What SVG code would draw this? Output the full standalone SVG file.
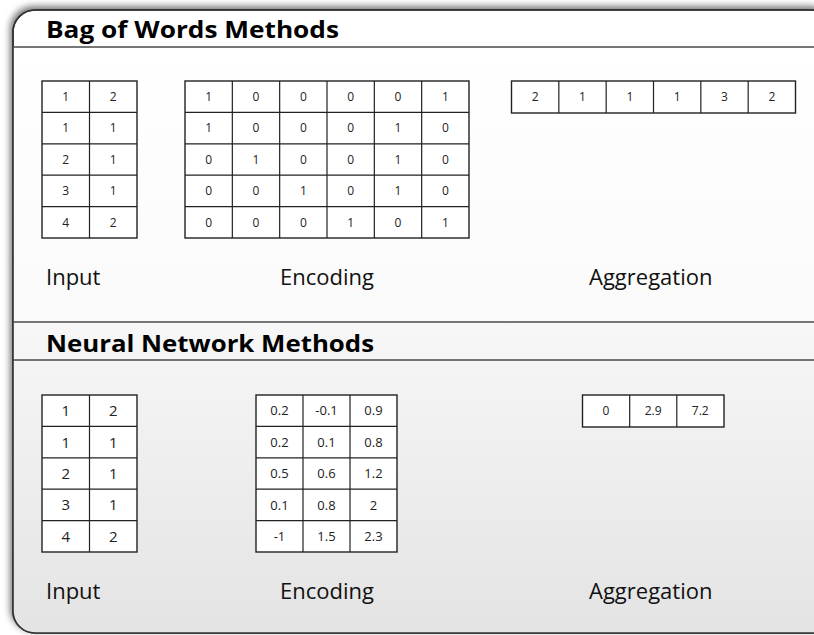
<svg xmlns="http://www.w3.org/2000/svg" width="814" height="635" viewBox="0 0 814 635">
<defs>
  <linearGradient id="gBottom" x1="0" y1="0" x2="0" y2="1">
    <stop offset="0" stop-color="#f7f7f7"/>
    <stop offset="1" stop-color="#e3e3e3"/>
  </linearGradient>
  <linearGradient id="gTop" x1="0" y1="0" x2="0" y2="1">
    <stop offset="0" stop-color="#ffffff"/>
    <stop offset="1" stop-color="#fafafa"/>
  </linearGradient>
  <filter id="shadow" x="-5%" y="-5%" width="110%" height="110%">
    <feDropShadow dx="-2" dy="-3" stdDeviation="3.5" flood-color="#000" flood-opacity="0.55"/>
  </filter>
  <clipPath id="frameClip">
    <path d="M13,32 A22,22 0 0 1 35,10 L812,10 A20,20 0 0 1 832,30 L832,613 A20,20 0 0 1 812,633 L35,633 A22,22 0 0 1 13,611 Z"/>
  </clipPath>
</defs>
<style>
  .frame { fill: #ffffff; stroke: #333333; stroke-width: 1.6; }
  .sep { stroke: #4a4a4a; stroke-width: 1.6; fill: none; }
  .title { font-family: "Open Sans", "DejaVu Sans", sans-serif; font-weight: bold; font-size: 24px; fill: #000; }
  .label { font-family: "Open Sans", "DejaVu Sans", sans-serif; font-size: 22px; fill: #111; }
  .tbl { fill: #ffffff; stroke: #222222; stroke-width: 1.4; }
  .grid { stroke: #222222; stroke-width: 1.2; fill: none; }
  .c { font-family: "Open Sans", "DejaVu Sans", sans-serif; font-size: 12px; fill: #222; text-anchor: middle; }
  .c15 { font-family: "Open Sans", "DejaVu Sans", sans-serif; font-size: 15px; fill: #222; text-anchor: middle; }
  .c13 { font-family: "Open Sans", "DejaVu Sans", sans-serif; font-size: 13px; fill: #222; text-anchor: middle; }
</style>

<g id="frame">
  <path class="frame" filter="url(#shadow)" d="M13,32 A22,22 0 0 1 35,10 L812,10 A20,20 0 0 1 832,30 L832,613 A20,20 0 0 1 812,633 L35,633 A22,22 0 0 1 13,611 Z"/>
  <g clip-path="url(#frameClip)">
    <rect x="0" y="47" width="840" height="275" fill="url(#gTop)"/>
    <rect x="0" y="322" width="840" height="320" fill="url(#gBottom)"/>
  </g>
  <path d="M13,32 A22,22 0 0 1 35,10 L812,10 A20,20 0 0 1 832,30 L832,613 A20,20 0 0 1 812,633 L35,633 A22,22 0 0 1 13,611 Z" fill="none" stroke="#333333" stroke-width="1.6"/>
  <line class="sep" x1="13" y1="47" x2="814" y2="47"/>
  <line class="sep" x1="13" y1="322" x2="814" y2="322"/>
  <line class="sep" x1="13" y1="360" x2="814" y2="360"/>
</g>

<g id="title-bow">
  <text class="title" x="46" y="38" textLength="293" lengthAdjust="spacingAndGlyphs">Bag of Words Methods</text>
</g>
<g id="title-nn">
  <text class="title" x="46" y="352" textLength="328" lengthAdjust="spacingAndGlyphs">Neural Network Methods</text>
</g>

<g id="bow-input">
  <rect class="tbl" x="42" y="81" width="95" height="157"/>
  <path class="grid" d="M89.5,81 V238 M42,112.4 H137 M42,143.8 H137 M42,175.2 H137 M42,206.6 H137"/>
  <text class="c" x="65.75" y="101">1</text><text class="c" x="113.25" y="101">2</text>
  <text class="c" x="65.75" y="132.4">1</text><text class="c" x="113.25" y="132.4">1</text>
  <text class="c" x="65.75" y="163.8">2</text><text class="c" x="113.25" y="163.8">1</text>
  <text class="c" x="65.75" y="195.2">3</text><text class="c" x="113.25" y="195.2">1</text>
  <text class="c" x="65.75" y="226.6">4</text><text class="c" x="113.25" y="226.6">2</text>
</g>

<g id="bow-encoding">
  <rect class="tbl" x="185" y="81" width="284" height="157"/>
  <path class="grid" d="M232.33,81 V238 M279.67,81 V238 M327,81 V238 M374.33,81 V238 M421.67,81 V238 M185,112.4 H469 M185,143.8 H469 M185,175.2 H469 M185,206.6 H469"/>
  <text class="c" x="208.67" y="101">1</text><text class="c" x="256" y="101">0</text><text class="c" x="303.33" y="101">0</text><text class="c" x="350.67" y="101">0</text><text class="c" x="398" y="101">0</text><text class="c" x="445.33" y="101">1</text>
  <text class="c" x="208.67" y="132.4">1</text><text class="c" x="256" y="132.4">0</text><text class="c" x="303.33" y="132.4">0</text><text class="c" x="350.67" y="132.4">0</text><text class="c" x="398" y="132.4">1</text><text class="c" x="445.33" y="132.4">0</text>
  <text class="c" x="208.67" y="163.8">0</text><text class="c" x="256" y="163.8">1</text><text class="c" x="303.33" y="163.8">0</text><text class="c" x="350.67" y="163.8">0</text><text class="c" x="398" y="163.8">1</text><text class="c" x="445.33" y="163.8">0</text>
  <text class="c" x="208.67" y="195.2">0</text><text class="c" x="256" y="195.2">0</text><text class="c" x="303.33" y="195.2">1</text><text class="c" x="350.67" y="195.2">0</text><text class="c" x="398" y="195.2">1</text><text class="c" x="445.33" y="195.2">0</text>
  <text class="c" x="208.67" y="226.6">0</text><text class="c" x="256" y="226.6">0</text><text class="c" x="303.33" y="226.6">0</text><text class="c" x="350.67" y="226.6">1</text><text class="c" x="398" y="226.6">0</text><text class="c" x="445.33" y="226.6">1</text>
</g>

<g id="bow-aggregation">
  <rect class="tbl" x="511.5" y="81" width="284" height="32"/>
  <path class="grid" d="M558.83,81 V113 M606.17,81 V113 M653.5,81 V113 M700.83,81 V113 M748.17,81 V113"/>
  <text class="c" x="535.17" y="101.3">2</text><text class="c" x="582.5" y="101.3">1</text><text class="c" x="629.83" y="101.3">1</text><text class="c" x="677.17" y="101.3">1</text><text class="c" x="724.5" y="101.3">3</text><text class="c" x="771.83" y="101.3">2</text>
</g>

<g id="bow-labels">
  <text class="label" x="46" y="285">Input</text>
  <text class="label" x="280" y="285">Encoding</text>
  <text class="label" x="589" y="285">Aggregation</text>
</g>

<g id="nn-input">
  <rect class="tbl" x="42" y="395" width="95" height="157"/>
  <path class="grid" d="M89.5,395 V552 M42,426.4 H137 M42,457.8 H137 M42,489.2 H137 M42,520.6 H137"/>
  <text class="c15" x="65.75" y="416.1">1</text><text class="c15" x="113.25" y="416.1">2</text>
  <text class="c15" x="65.75" y="447.5">1</text><text class="c15" x="113.25" y="447.5">1</text>
  <text class="c15" x="65.75" y="478.9">2</text><text class="c15" x="113.25" y="478.9">1</text>
  <text class="c15" x="65.75" y="510.3">3</text><text class="c15" x="113.25" y="510.3">1</text>
  <text class="c15" x="65.75" y="541.7">4</text><text class="c15" x="113.25" y="541.7">2</text>
</g>

<g id="nn-encoding">
  <rect class="tbl" x="256" y="395" width="141" height="157"/>
  <path class="grid" d="M303,395 V552 M350,395 V552 M256,426.4 H397 M256,457.8 H397 M256,489.2 H397 M256,520.6 H397"/>
  <text class="c13" x="279.5" y="415.4">0.2</text><text class="c13" x="326.5" y="415.4">-0.1</text><text class="c13" x="373.5" y="415.4">0.9</text>
  <text class="c13" x="279.5" y="446.8">0.2</text><text class="c13" x="326.5" y="446.8">0.1</text><text class="c13" x="373.5" y="446.8">0.8</text>
  <text class="c13" x="279.5" y="478.2">0.5</text><text class="c13" x="326.5" y="478.2">0.6</text><text class="c13" x="373.5" y="478.2">1.2</text>
  <text class="c13" x="279.5" y="509.6">0.1</text><text class="c13" x="326.5" y="509.6">0.8</text><text class="c13" x="373.5" y="509.6">2</text>
  <text class="c13" x="279.5" y="541">-1</text><text class="c13" x="326.5" y="541">1.5</text><text class="c13" x="373.5" y="541">2.3</text>
</g>

<g id="nn-aggregation">
  <rect class="tbl" x="582.5" y="395" width="141.5" height="32"/>
  <path class="grid" d="M629.7,395 V427 M676.8,395 V427"/>
  <text class="c" x="606" y="415.3">0</text><text class="c" x="653.2" y="415.3">2.9</text><text class="c" x="700.3" y="415.3">7.2</text>
</g>

<g id="nn-labels">
  <text class="label" x="46" y="599">Input</text>
  <text class="label" x="280" y="599">Encoding</text>
  <text class="label" x="589" y="599">Aggregation</text>
</g>

<g id="connectors"/>
</svg>
